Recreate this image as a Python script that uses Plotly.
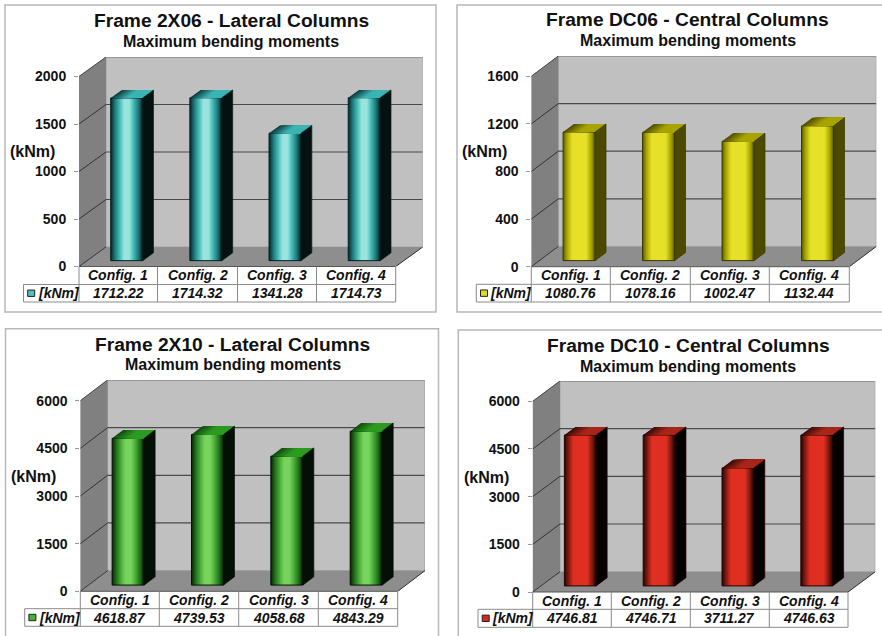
import plotly.graph_objects as go

# ---------- data ----------
categories = ["Config. 1", "Config. 2", "Config. 3", "Config. 4"]
titles = ["Frame 2X06 - Lateral Columns", "Frame DC06 - Central Columns",
          "Frame 2X10 - Lateral Columns", "Frame DC10 - Central Columns"]
subtitle = "Maximum bending moments"
unit_label = "(kNm)"
legend_label = "[kNm]"

values_2x06 = [1712.22, 1714.32, 1341.28, 1714.73]
values_dc06 = [1080.76, 1078.16, 1002.47, 1132.44]
values_2x10 = [4618.87, 4739.53, 4058.68, 4843.29]
values_dc10 = [4746.81, 4746.71, 3711.27, 4746.63]

ticks_2x06 = [0, 500, 1000, 1500, 2000]
ticks_dc06 = [0, 400, 800, 1200, 1600]
ticks_2x10 = [0, 1500, 3000, 4500, 6000]
ticks_dc10 = [0, 1500, 3000, 4500, 6000]

# ---------- styles ----------
W, H = 882, 636
FONT = "Liberation Sans"
N_STRIPS = 32
BAR_WIDTH = 0.404
DEPTH_FRONT, DEPTH_BACK = 0.30, 0.70

styles = [
    dict(front=[(0, "#082626"), (.14, "#1f7c7c"), (.3, "#4cc0bc"), (.42, "#9ae4de"), (.58, "#9ae4de"),
                (.7, "#4cc0bc"), (.86, "#1f7c7c"), (1, "#082626")],
         top=[(0, "#0d3a3a"), (.5, "#3cb4b4"), (1, "#3cb4b4")], side="#041110", edge="#052020", swatch="#4fc0c0"),
    dict(front=[(0, "#5e5e00"), (.12, "#a8a400"), (.28, "#e6e028"), (.72, "#e6e028"), (.88, "#a8a400"), (1, "#5e5e00")],
         top=[(0, "#4c4c00"), (.5, "#a8a400"), (1, "#a8a400")], side="#4c4a00", edge="#363400", swatch="#e0da20"),
    dict(front=[(0, "#082808"), (.14, "#25741c"), (.3, "#52b440"), (.42, "#78d45f"), (.58, "#78d45f"),
                (.7, "#52b440"), (.86, "#25741c"), (1, "#082808")],
         top=[(0, "#0f4a0f"), (.5, "#2e9a22"), (1, "#2e9a22")], side="#040f05", edge="#031003", swatch="#48b030"),
    dict(front=[(0, "#2a0604"), (.12, "#7a1a10"), (.28, "#e03022"), (.72, "#e03022"), (.88, "#7a1a10"), (1, "#2a0604")],
         top=[(0, "#3a0a08"), (.5, "#a8261a"), (1, "#a8261a")], side="#060101", edge="#200402", swatch="#d42a1e"),
]

# pixel geometry of each panel
panels = [
    dict(values=values_2x06, ticks=ticks_2x06, frame=(5, 5, 436, 312),
         ox=79.0, fr=395.7, bx=106.0, brx=422.7, y0=266.5, ytop=76.5, backtop=57.0, backfloor=247.0,
         rows=(266.5, 284.5, 302.0), cols=(79.0, 157.5, 237.5, 316.5, 395.7), legleft=23.5,
         tx=231, ty=20.7, sy=41, ux=32.3, uy=151.7),
    dict(values=values_dc06, ticks=ticks_dc06, frame=(457, 5, 886, 312),
         ox=531.3, fr=849.3, bx=558.0, brx=876.3, y0=266.7, ytop=76.3, backtop=56.0, backfloor=246.7,
         rows=(266.7, 284.3, 302.0), cols=(531.3, 610.3, 690.3, 769.3, 849.3), legleft=476.3,
         tx=687.8, ty=20, sy=40.7, ux=484.7, uy=151.7),
    dict(values=values_2x10, ticks=ticks_2x10, frame=(5.5, 328.7, 438.5, 660),
         ox=80.3, fr=397.7, bx=107.3, brx=425.0, y0=591.3, ytop=400.7, backtop=380.0, backfloor=571.3,
         rows=(591.3, 608.7, 626.3), cols=(80.3, 159.3, 238.7, 318.3, 397.7), legleft=24.7,
         tx=232.8, ty=344, sy=364.7, ux=33.3, uy=476.3),
    dict(values=values_dc10, ticks=ticks_dc10, frame=(458.3, 330, 886, 660),
         ox=532.7, fr=848.0, bx=559.3, brx=875.3, y0=592.0, ytop=401.3, backtop=381.0, backfloor=571.3,
         rows=(592.0, 609.3, 627.3), cols=(532.7, 611.3, 690.3, 769.3, 848.0), legleft=478.0,
         tx=688.3, ty=345.3, sy=366.3, ux=486.3, uy=477),
]


def hex2rgb(c):
    return tuple(int(c[i:i + 2], 16) for i in (1, 3, 5))


def ramp(stops, t):
    for (p0, c0), (p1, c1) in zip(stops, stops[1:]):
        if t <= p1:
            f = (t - p0) / (p1 - p0)
            a, b = hex2rgb(c0), hex2rgb(c1)
            return "rgb(%d,%d,%d)" % tuple(round(a[i] + (b[i] - a[i]) * f) for i in range(3))
    return stops[-1][1]


def px(x):
    return x / W


def py(y):
    return 1 - y / H


fig = go.Figure()
layout = dict(
    width=W, height=H, margin=dict(l=0, r=0, t=0, b=0, pad=0, autoexpand=False),
    paper_bgcolor="white", plot_bgcolor="rgba(0,0,0,0)", showlegend=False,
    barmode="overlay", hovermode=False, font=dict(family=FONT, color="#111111"),
)
shapes, annotations = [], []


def text(x, y, s, size, anchor="center"):
    annotations.append(dict(x=px(x), y=py(y), xref="paper", yref="paper", text=s, showarrow=False,
                            xanchor=anchor, yanchor="middle", font=dict(size=size, family=FONT, color="#111111")))


def pline(x0, y0, x1, y1, color="#8a8a8a", width=1):
    shapes.append(dict(type="line", xref="paper", yref="paper", x0=px(x0), y0=py(y0), x1=px(x1), y1=py(y1),
                       line=dict(color=color, width=width)))


for i, (p, st) in enumerate(zip(panels, styles)):
    xa, ya = f"x{i + 1}", f"y{i + 1}"
    vmax = p["ticks"][-1]
    ymax = vmax * (p["y0"] - p["backtop"]) / (p["y0"] - p["ytop"])
    xmax = 4 * (p["brx"] - p["ox"]) / (p["fr"] - p["ox"])
    dx = xmax - 4
    dy = ymax - vmax

    layout[f"xaxis{i + 1}"] = dict(domain=[px(p["ox"]), px(p["brx"])], range=[0, xmax], visible=False,
                                   fixedrange=True, anchor=ya)
    layout[f"yaxis{i + 1}"] = dict(domain=[py(p["y0"]), py(p["backtop"])], range=[0, ymax], anchor=xa,
                                   tickmode="array", tickvals=p["ticks"], ticktext=[str(t) for t in p["ticks"]],
                                   ticks="outside", ticklen=4, tickcolor="#999999", tickwidth=1,
                                   ticklabelstandoff=5, showgrid=False, zeroline=False, showline=False,
                                   fixedrange=True, tickfont=dict(size=14, family=FONT, color="#111111", weight=700))

    def poly(pts, fill, line=None):
        path = "M" + " L".join(f"{a},{b}" for a, b in pts) + " Z"
        shapes.append(dict(type="path", xref=xa, yref=ya, path=path, fillcolor=fill, layer="below",
                           line=dict(color=line or fill, width=0.5)))

    def seg(a, b, c, d, color, width=1):
        shapes.append(dict(type="line", xref=xa, yref=ya, x0=a, y0=b, x1=c, y1=d, layer="below",
                           line=dict(color=color, width=width)))

    # walls and floor
    poly([(dx, dy), (xmax, dy), (xmax, ymax), (dx, ymax)], "#c0c0c0")
    poly([(0, 0), (dx, dy), (dx, ymax), (0, vmax)], "#808080")
    poly([(0, 0), (4, 0), (xmax, dy), (dx, dy)], "#8e8e8e")
    for t in p["ticks"][1:-1]:
        seg(dx, t + dy, xmax, t + dy, "#4a4a4a", 1.2)
        seg(0, t, dx, t + dy, "#333333", 1)
    seg(0, vmax, dx, ymax, "#4a4a4a", 1)
    seg(dx, ymax, xmax, ymax, "#8a8a8a", 1.5)
    seg(xmax, dy, xmax, ymax, "#9a9a9a", 1)
    seg(0, 0, dx, dy, "#333333", 1)
    seg(4, 0, xmax, dy, "#333333", 1)

    # bars: nested gradient strips over the same values (each one runs to the right edge of the bar)
    vals = p["values"]
    base = [DEPTH_FRONT * dy] * 4
    centers = [k + 0.5 + DEPTH_FRONT * dx for k in range(4)]
    sw = BAR_WIDTH / N_STRIPS
    ddx = (DEPTH_BACK - DEPTH_FRONT) * dx
    ddy = (DEPTH_BACK - DEPTH_FRONT) * dy
    for s in range(N_STRIPS):
        t = (s + 0.5) / N_STRIPS
        off = -BAR_WIDTH / 2 + s * sw
        w = BAR_WIDTH - s * sw
        fig.add_trace(go.Bar(x=[c + off + w / 2 for c in centers], y=vals, base=base, width=w,
                             marker=dict(color=ramp(st["front"], t), line=dict(width=0)),
                             xaxis=xa, yaxis=ya, hoverinfo="skip"))
        xs, ys = [], []
        for c, v, b in zip(centers, vals, base):
            x0, x1 = c + off, c + BAR_WIDTH / 2
            xs += [x0, x1, x1 + ddx, x0 + ddx, x0, None]
            ys += [b + v, b + v, b + v + ddy, b + v + ddy, b + v, None]
        col = ramp(st["top"], t)
        fig.add_trace(go.Scatter(x=xs, y=ys, mode="lines", fill="toself", fillcolor=col,
                                 line=dict(color=col, width=0), xaxis=xa, yaxis=ya, hoverinfo="skip"))
    # bar outline
    fig.add_trace(go.Bar(x=centers, y=vals, base=base, width=BAR_WIDTH,
                         marker=dict(color="rgba(0,0,0,0)", line=dict(color=st["edge"], width=1)),
                         xaxis=xa, yaxis=ya, hoverinfo="skip"))
    # side faces
    xs, ys = [], []
    for c, v, b in zip(centers, vals, base):
        xr = c + BAR_WIDTH / 2
        xs += [xr, xr + ddx, xr + ddx, xr, xr, None]
        ys += [b, b + ddy, b + ddy + v, b + v, b, None]
    fig.add_trace(go.Scatter(x=xs, y=ys, mode="lines", fill="toself", fillcolor=st["side"],
                             line=dict(color=st["edge"], width=0.7), xaxis=xa, yaxis=ya, hoverinfo="skip"))

    # panel frame
    fx0, fy0, fx1, fy1 = p["frame"]
    shapes.append(dict(type="rect", xref="paper", yref="paper", x0=px(fx0), y0=py(fy0), x1=px(fx1), y1=py(fy1),
                       line=dict(color="#b8b8b8", width=1.5), fillcolor="rgba(0,0,0,0)", layer="below"))

    # titles
    text(p["tx"], p["ty"], f"<b>{titles[i]}</b>", 19.2)
    text(p["tx"], p["sy"], f"<b>{subtitle}</b>", 16)
    text(p["ux"], p["uy"], f"<b>{unit_label}</b>", 16)

    # data table
    r0, r1, r2 = p["rows"]
    cols = p["cols"]
    pline(cols[0], r0, cols[-1], r0, "#555555")
    pline(cols[0], r1, cols[-1], r1)
    pline(p["legleft"], r1, cols[0], r1)
    pline(p["legleft"], r2, cols[-1], r2)
    pline(p["legleft"], r1, p["legleft"], r2)
    for k, c in enumerate(cols):
        pline(c, r0, c, r2)
    for k in range(4):
        mid = (cols[k] + cols[k + 1]) / 2
        text(mid, (r0 + r1) / 2, f"<b><i>{categories[k]}</i></b>", 14)
        text(mid, (r1 + r2) / 2, f"<b><i>{p['values'][k]:.2f}</i></b>", 14)
    sx = p["legleft"] + 4.2
    sy = (r1 + r2) / 2
    shapes.append(dict(type="rect", xref="paper", yref="paper", x0=px(sx), x1=px(sx + 7),
                       y0=py(sy - 3.2), y1=py(sy + 3.2), fillcolor=st["swatch"],
                       line=dict(color="#222222", width=1)))
    text(p["legleft"] + 12, sy, f"<b><i>{legend_label}</i></b>", 14, anchor="left")

layout["shapes"] = shapes
layout["annotations"] = annotations
fig.update_layout(**layout)
fig.write_html("out.html", config={"displayModeBar": False},
               post_script="document.body.style.margin='0';document.documentElement.style.overflow='hidden';")
